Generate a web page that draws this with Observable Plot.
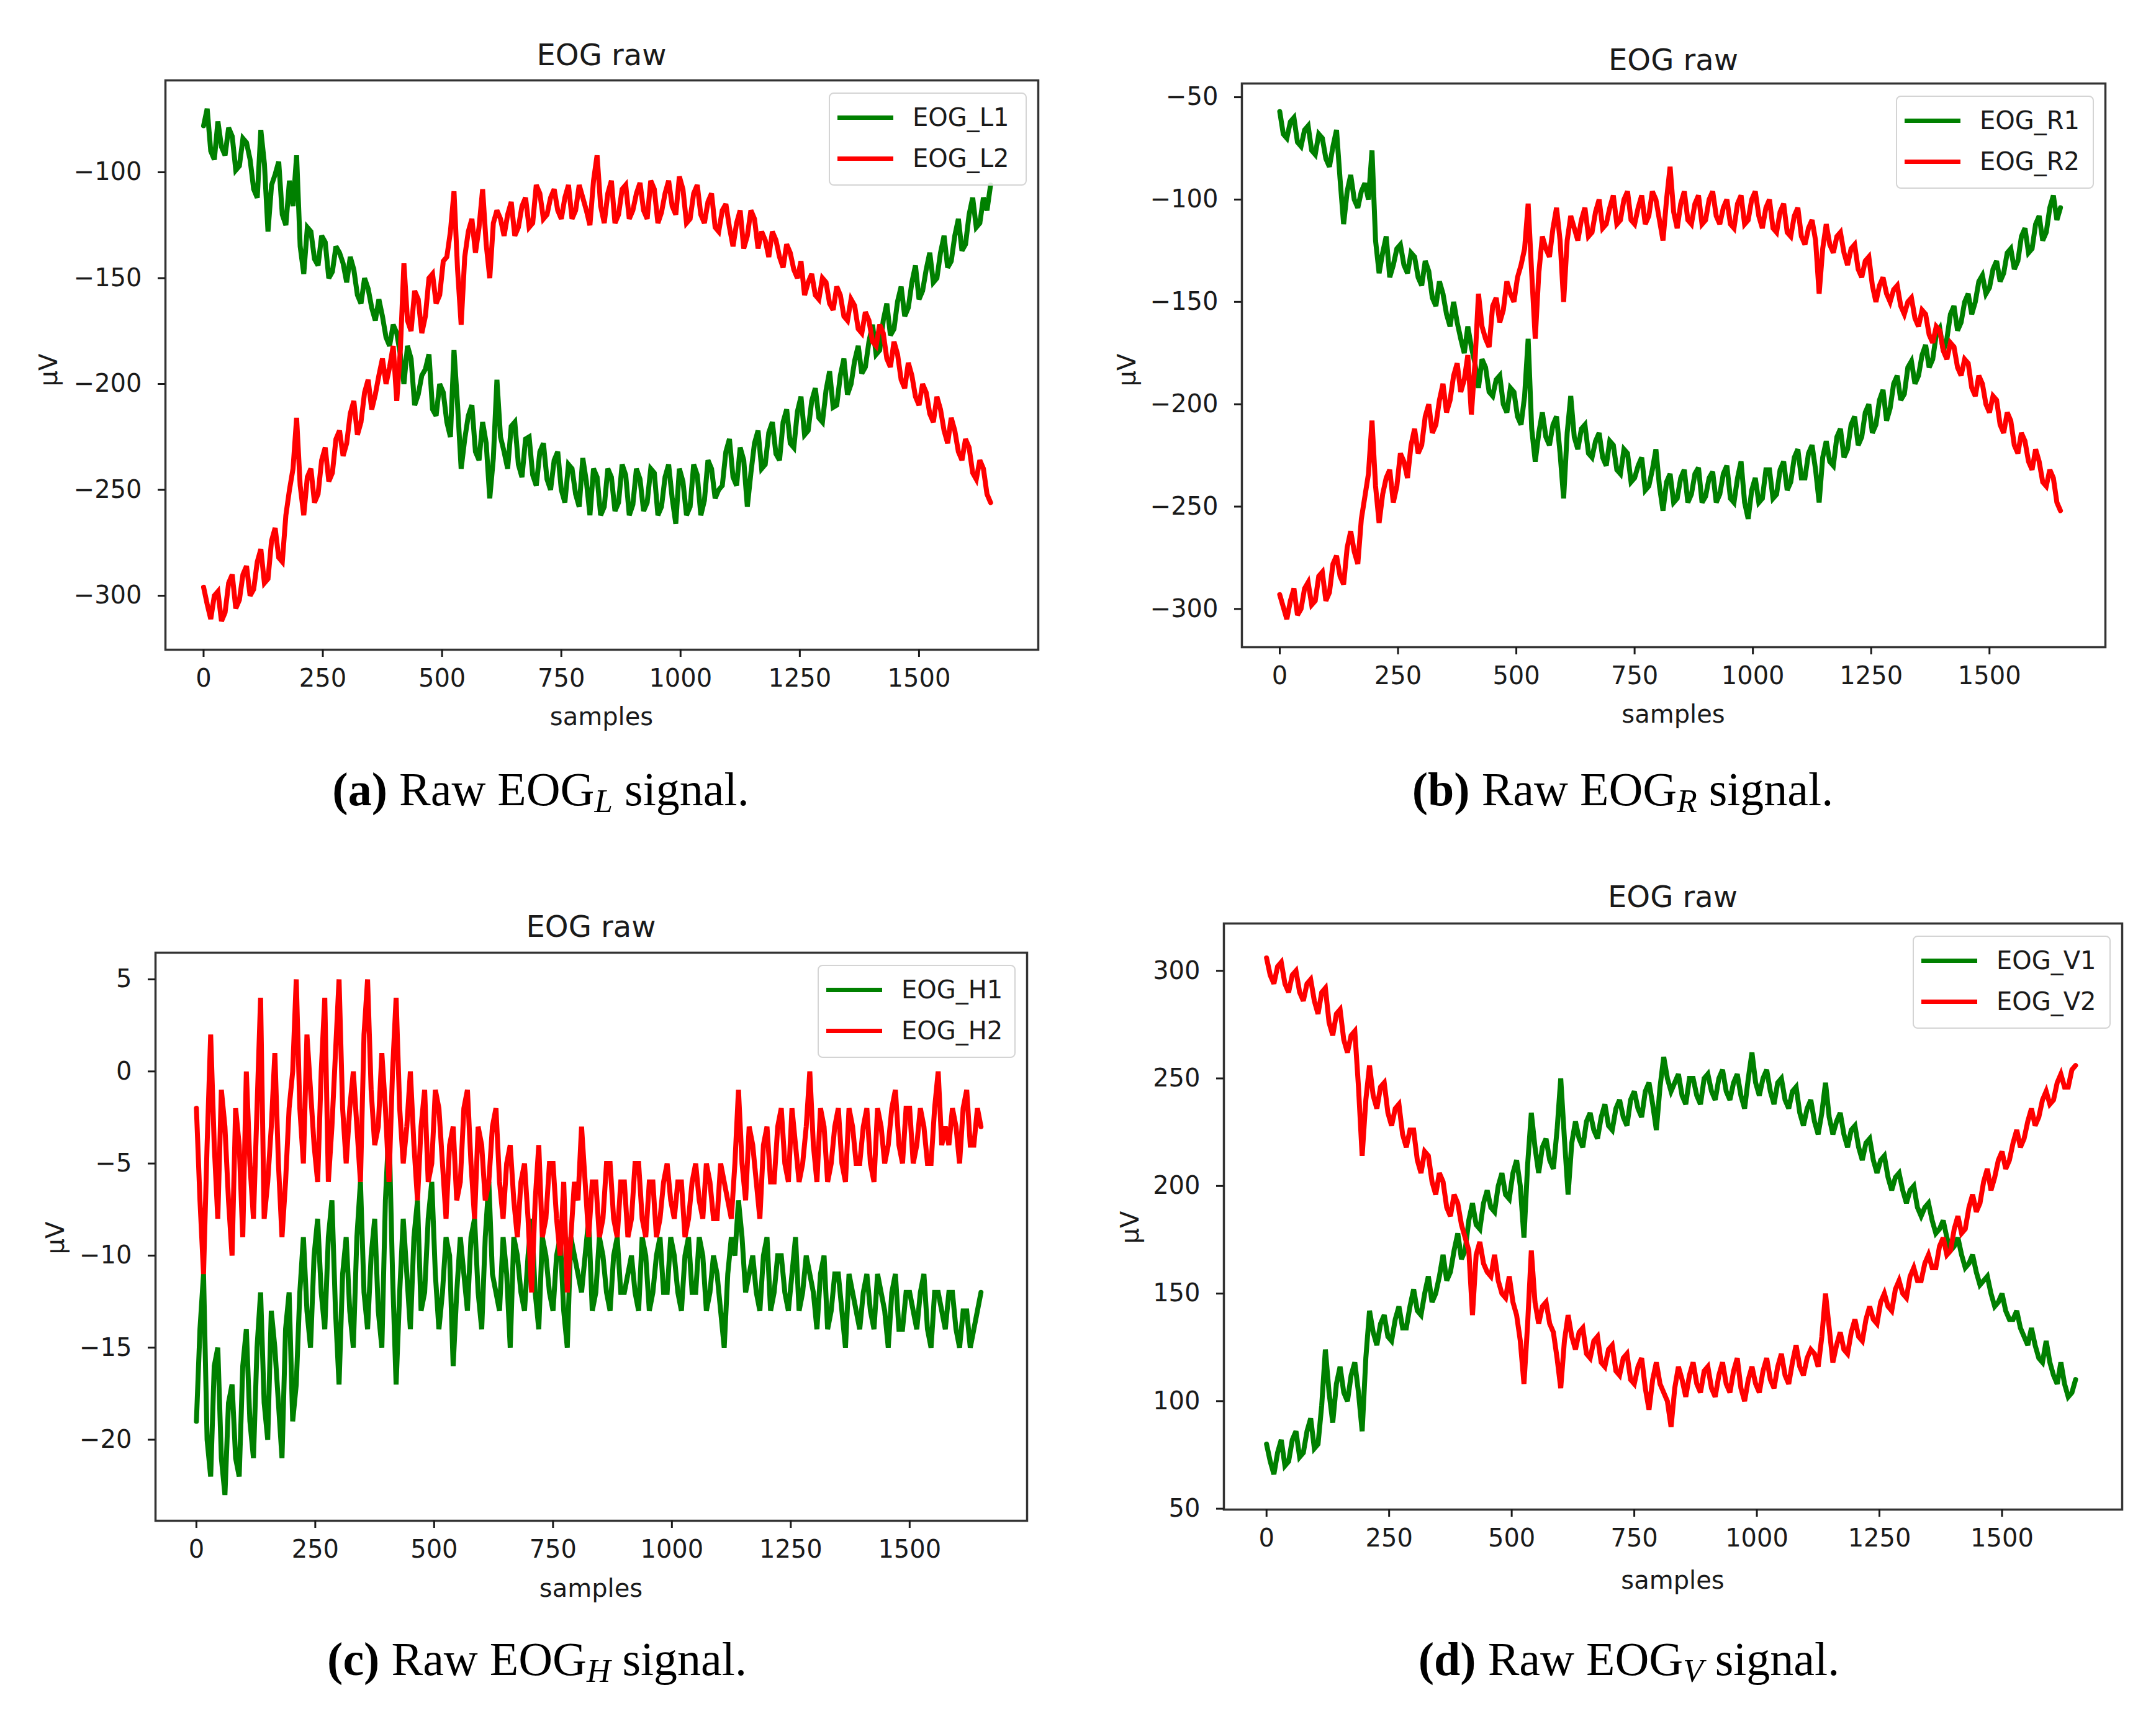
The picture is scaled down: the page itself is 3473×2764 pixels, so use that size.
<!DOCTYPE html>
<html>
<head>
<meta charset="utf-8">
<script src="https://cdn.jsdelivr.net/npm/d3@7"></script>
<script src="https://cdn.jsdelivr.net/npm/@observablehq/plot@0.6"></script>
<style>
  body { margin: 0; background: #fff; }
  #page { position: relative; width: 3473px; height: 2764px; background: #fff; overflow: hidden; }
  .chart { position: absolute; }
  .txt { position: absolute; font-family: "DejaVu Sans", sans-serif; color: #1a1a1a; white-space: nowrap; transform: translate(-50%, -50%); line-height: 1; }
  .title { font-size: 48px; }
  .axlabel { font-size: 40px; }
  .ylab { transform: translate(-50%, -50%) rotate(-90deg); }
  .legend { position: absolute; border: 2px solid #d4d4d4; border-radius: 8px; background: rgba(255,255,255,0.85); }
  .legend .sw { position: absolute; left: 12px; width: 90px; height: 7px; }
  .legend .lt { position: absolute; left: 133px; font-family: "DejaVu Sans", sans-serif; font-size: 40px; color: #1a1a1a; line-height: 1; transform: translateY(-50%); }
  .caption { position: absolute; font-family: "Liberation Serif", serif; font-size: 76px; color: #000; white-space: nowrap; transform: translate(-50%, -50%); line-height: 1; }
  .caption sub { font-size: 0.7em; vertical-align: -0.22em; font-style: italic; }
</style>
</head>
<body>
<div id="page"></div>
<script>
// readings every 15 samples (A) and half way between them (B)
const STEP = 15
const xTicks = [0, 250, 500, 750, 1000, 1250, 1500]

// (a) EOG_L
const eogL1 = [-78,-90,-76,-92,-83,-97,-86,-108,-80,-128,
  -101,-120,-104,-92,-148,-128,-144,-133,-147,-138,
  -152,-146,-162,-155,-170,-168,-182,-176,-200,-188,
  -205,-193,-212,-200,-218,-184,-240,-215,-232,-218,
  -254,-198,-232,-220,-238,-226,-243,-232,-245,-236,
  -250,-238,-252,-235,-262,-244,-258,-244,-256,-243,
  -257,-245,-256,-242,-258,-238,-266,-246,-258,-243,
  -255,-240,-250,-232,-244,-230,-258,-228,-240,-223,
  -233,-218,-228,-213,-224,-208,-216,-203,-211,-196,
  -205,-189,-195,-180,-186,-170,-177,-161,-168,-152,
  -160,-146,-152,-138,-145,-130,-137,-120,-126,-112,
  -106]
const eogL1b = [-70,-94,-88,-79,-99,-84,-94,-112,-96,-106,
  -95,-125,-116,-135,-126,-141,-130,-150,-135,-143,
  -140,-158,-150,-164,-160,-178,-172,-186,-182,-210,
  -196,-186,-215,-204,-225,-210,-226,-210,-236,-228,
  -235,-225,-240,-218,-244,-225,-248,-228,-250,-232,
  -256,-240,-258,-246,-240,-262,-240,-260,-238,-262,
  -240,-260,-240,-262,-244,-254,-240,-262,-238,-262,
  -236,-254,-248,-226,-248,-236,-242,-222,-238,-218,
  -236,-212,-230,-206,-222,-202,-218,-194,-210,-188,
  -200,-182,-192,-172,-184,-162,-174,-154,-164,-144,
  -156,-138,-150,-130,-142,-122,-134,-112,-124,-118]
const eogL2 = [-296,-311,-298,-308,-290,-302,-286,-297,-278,-292,
  -268,-284,-250,-216,-262,-240,-252,-230,-242,-222,
  -228,-208,-218,-198,-205,-188,-192,-208,-143,-175,
  -160,-168,-148,-158,-140,-109,-172,-128,-138,-108,
  -150,-118,-130,-114,-126,-112,-124,-110,-120,-108,
  -122,-106,-118,-112,-125,-92,-124,-104,-120,-106,
  -118,-105,-122,-108,-119,-104,-120,-108,-122,-106,
  -124,-110,-128,-115,-135,-118,-130,-122,-128,-140,
  -132,-145,-138,-150,-158,-148,-160,-152,-165,-158,
  -170,-163,-176,-170,-182,-176,-192,-186,-202,-196,
  -210,-204,-218,-212,-228,-222,-236,-230,-245,-240,
  -256]
const eogL2b = [-304,-300,-312,-294,-306,-290,-300,-284,-294,-274,
  -282,-262,-240,-248,-244,-256,-236,-246,-226,-234,
  -214,-224,-204,-212,-196,-200,-182,-184,-170,-156,
  -176,-150,-162,-142,-128,-146,-140,-122,-126,-134,
  -124,-122,-120,-130,-116,-126,-106,-122,-112,-118,
  -112,-122,-106,-118,-104,-116,-110,-124,-108,-122,
  -110,-118,-104,-124,-110,-116,-102,-124,-110,-120,
  -114,-126,-118,-126,-124,-136,-118,-136,-132,-128,
  -140,-134,-146,-142,-152,-158,-150,-162,-154,-168,
  -160,-174,-166,-180,-172,-188,-180,-198,-190,-206,
  -200,-214,-206,-222,-216,-232,-226,-242,-236,-252]

// (b) EOG_R
const eogR1 = [-57,-70,-60,-74,-64,-78,-70,-84,-66,-112,
  -88,-104,-92,-76,-136,-118,-132,-122,-136,-128,
  -142,-135,-152,-146,-162,-160,-175,-172,-192,-182,
  -196,-186,-204,-194,-210,-168,-228,-204,-220,-206,
  -246,-196,-222,-210,-226,-214,-230,-220,-234,-224,
  -236,-226,-240,-222,-252,-234,-246,-232,-244,-231,
  -245,-233,-244,-230,-248,-228,-256,-236,-246,-232,
  -244,-228,-238,-222,-236,-220,-248,-218,-230,-212,
  -222,-206,-216,-200,-210,-193,-202,-186,-195,-179,
  -186,-171,-178,-163,-168,-152,-160,-146,-150,-137,
  -143,-130,-136,-124,-130,-114,-124,-108,-116,-98,
  -104]
const eogR1b = [-68,-62,-72,-66,-76,-68,-80,-74,-90,-96,
  -100,-96,-100,-120,-126,-138,-124,-132,-126,-138,
  -130,-148,-140,-156,-150,-168,-162,-180,-178,-194,
  -188,-200,-192,-206,-196,-212,-214,-216,-210,-224,
  -214,-216,-212,-224,-218,-226,-218,-232,-222,-238,
  -230,-242,-232,-240,-238,-248,-236,-248,-234,-248,
  -236,-248,-234,-246,-236,-248,-242,-248,-232,-246,
  -232,-242,-226,-236,-224,-232,-226,-228,-216,-226,
  -210,-220,-204,-214,-198,-208,-190,-198,-182,-190,
  -176,-182,-166,-174,-156,-164,-150,-156,-140,-146,
  -134,-140,-126,-134,-118,-126,-112,-120,-104,-110]
const eogR2 = [-293,-305,-290,-300,-287,-296,-282,-292,-274,-288,
  -262,-278,-245,-208,-258,-236,-248,-224,-236,-212,
  -220,-200,-210,-190,-198,-180,-188,-205,-146,-168,
  -152,-160,-140,-150,-132,-102,-168,-118,-128,-104,
  -150,-108,-120,-104,-116,-100,-112,-98,-110,-96,
  -112,-98,-108,-100,-120,-84,-114,-96,-112,-98,
  -110,-96,-112,-100,-114,-98,-110,-96,-114,-100,
  -116,-102,-118,-104,-122,-110,-146,-112,-126,-116,
  -132,-122,-138,-128,-150,-138,-150,-142,-156,-148,
  -162,-156,-170,-164,-178,-172,-186,-180,-196,-190,
  -204,-198,-214,-208,-224,-218,-232,-228,-240,-236,
  -252]
const eogR2b = [-299,-296,-303,-290,-298,-284,-296,-278,-284,-270,
  -272,-256,-234,-240,-244,-232,-240,-228,-220,-224,
  -206,-214,-198,-204,-186,-194,-176,-180,-162,-172,
  -148,-154,-146,-138,-124,-136,-136,-124,-114,-120,
  -120,-114,-110,-118,-106,-114,-104,-112,-100,-110,
  -104,-112,-96,-110,-100,-106,-102,-110,-102,-112,
  -100,-108,-104,-112,-102,-112,-100,-108,-104,-114,
  -106,-116,-108,-118,-114,-120,-124,-122,-118,-126,
  -124,-134,-130,-142,-142,-146,-144,-152,-150,-158,
  -154,-166,-162,-174,-170,-182,-178,-192,-186,-200,
  -196,-210,-204,-220,-214,-228,-222,-238,-232,-248]

// (c) EOG_H
const eogH1 = [-19,-11,-22,-15,-23,-17,-22,-14,-21,-12,
  -20,-15,-21,-12,-17,-9,-15,-8,-14,-7,
  -17,-9,-15,-6,-14,-8,-15,-3,-17,-8,
  -14,-7,-12,-6,-14,-9,-16,-9,-13,-8,
  -14,-6,-12,-9,-15,-10,-13,-8,-14,-10,
  -13,-9,-15,-10,-12,-8,-12,-10,-13,-9,
  -12,-10,-13,-10,-12,-9,-12,-10,-13,-9,
  -12,-10,-12,-11,-15,-9,-7,-12,-10,-13,
  -9,-12,-10,-13,-9,-12,-11,-14,-10,-13,
  -11,-15,-12,-14,-11,-14,-12,-15,-11,-14,
  -12,-14,-11,-15,-12,-14,-12,-15,-13,-14,
  -12]
const eogH1b = [-14,-20,-16,-21,-18,-21,-16,-19,-15,-18,
  -13,-18,-14,-19,-12,-13,-10,-12,-9,-13,
  -11,-13,-9,-12,-10,-13,-7,-11,-12,-11,
  -9,-13,-8,-11,-12,-10,-12,-11,-9,-12,
  -9,-11,-13,-11,-9,-12,-10,-12,-9,-12,
  -10,-13,-9,-11,-10,-13,-9,-12,-10,-12,
  -11,-12,-9,-13,-10,-12,-9,-12,-10,-12,
  -9,-13,-10,-13,-11,-10,-9,-11,-12,-10,
  -13,-10,-12,-11,-13,-10,-12,-11,-14,-11,
  -13,-11,-13,-12,-13,-11,-13,-12,-14,-12,
  -13,-12,-14,-12,-13,-12,-14,-13,-15,-13]
const eogH2 = [-2,-11,2,-8,-3,-10,-4,0,-8,4,
  -6,1,-9,-2,5,-5,-1,-6,4,-3,
  5,-5,0,-6,5,-4,1,-6,4,-5,
  0,-7,-1,-5,-2,-8,-3,-6,-1,-8,
  -4,-6,-2,-8,-4,-9,-5,-12,-4,-8,
  -5,-10,-12,-6,-3,-9,-6,-8,-5,-9,
  -6,-8,-5,-9,-6,-8,-5,-8,-6,-8,
  -5,-8,-6,-8,-6,-8,-1,-7,-4,-8,
  -3,-6,-2,-6,-4,-5,0,-6,-3,-5,
  -2,-6,-3,-5,-2,-6,-3,-4,-1,-5,
  -2,-4,-3,-5,0,-3,-2,-5,-1,-4,
  -3]
const eogH2b = [-7,-4,-4,-1,-7,-2,-9,-5,-2,-8,
  -3,-5,-6,0,-2,2,-4,0,-6,1,
  -2,-2,-3,2,-1,-3,-2,0,-2,-3,
  -4,-3,-6,-1,-5,-4,-7,-2,-5,-3,
  -7,-3,-6,-5,-7,-6,-8,-7,-9,-5,
  -8,-6,-9,-7,-6,-6,-9,-5,-8,-6,
  -9,-5,-8,-6,-9,-6,-7,-6,-9,-6,
  -7,-5,-8,-5,-7,-5,-5,-3,-6,-4,
  -6,-3,-5,-2,-6,-3,-4,-2,-6,-3,
  -5,-2,-5,-3,-5,-2,-5,-2,-4,-2,
  -5,-2,-5,-2,-4,-4,-3,-2,-4,-2]

// (d) EOG_V
const eogV1 = [80,66,82,72,86,76,92,80,124,90,
  116,100,118,86,142,126,140,128,144,134,
  152,140,158,150,168,160,178,170,192,180,
  198,188,206,194,212,176,234,206,222,208,
  250,196,230,218,234,222,238,226,240,228,
  244,232,248,226,260,244,252,238,250,238,
  252,240,254,240,252,236,262,242,254,238,
  250,236,246,228,240,224,248,224,234,218,
  228,212,222,206,214,198,206,192,200,186,
  192,178,184,170,176,162,168,154,158,144,
  150,138,142,130,134,120,128,112,118,102,
  110]
const eogV1b = [72,76,70,82,74,86,78,98,104,108,
  104,112,104,120,132,136,130,138,134,144,
  142,150,146,158,156,170,166,184,182,192,
  190,200,196,206,200,210,218,218,212,226,
  222,220,222,230,226,232,228,236,232,240,
  236,244,238,246,250,248,242,250,242,250,
  244,250,244,248,242,250,248,250,244,248,
  240,244,234,236,230,234,232,230,224,226,
  218,220,212,212,204,204,198,198,190,190,
  184,180,176,172,168,164,160,156,150,146,
  142,138,134,126,126,118,118,108,108,104]
const eogV2 = [306,294,304,290,300,286,296,280,292,270,
  282,262,272,214,256,236,248,228,238,218,
  226,206,214,196,202,186,192,176,140,174,
  160,168,150,158,140,108,170,136,146,132,
  106,140,124,134,120,130,116,126,112,122,
  108,120,96,118,104,88,116,102,118,104,
  116,102,118,104,120,100,116,104,120,106,
  122,108,126,112,124,116,150,118,132,122,
  138,128,144,136,150,142,156,148,162,156,
  168,162,176,170,186,180,196,192,208,204,
  216,212,226,222,236,232,244,240,252,246,
  256]
const eogV2b = [298,302,294,298,290,294,286,290,276,280,
  268,270,246,240,242,246,234,236,224,226,
  212,216,202,206,190,196,182,170,168,164,
  158,156,148,146,128,136,146,144,136,120,
  128,130,132,122,128,118,124,114,120,110,
  116,106,110,108,100,106,110,112,108,114,
  106,112,108,114,106,110,108,114,110,116,
  112,118,116,120,122,130,134,126,124,132,
  130,138,138,146,144,152,150,158,156,164,
  162,172,168,180,178,190,188,202,198,212,
  208,220,218,230,228,240,238,248,246,254]

const GREEN = "#008000"
const RED = "#ff0000"

const panels = [
  {svg: [0, 0], frame: {l: 266, r: 1672, t: 129, b: 1046}, xDomain: [-80, 1750], yDomain: [-325.5, -56.6],
   yTicks: [-300, -250, -200, -150, -100], names: ["EOG_L1", "EOG_L2"],
   series: [[eogL1, eogL1b], [eogL2, eogL2b]],
   ylab: [78, 596], xlabY: 1154, titleY: 88, caption: [871, 1275], sub: "L", tag: "(a)"},
  {svg: [1737, 0], frame: {l: 2000, r: 3391, t: 134, b: 1042}, xDomain: [-80, 1745], yDomain: [-318.7, -43.3],
   yTicks: [-300, -250, -200, -150, -100, -50], names: ["EOG_R1", "EOG_R2"],
   series: [[eogR1, eogR1b], [eogR2, eogR2b]],
   ylab: [1815, 596], xlabY: 1150, titleY: 96, caption: [2614, 1275], sub: "R", tag: "(b)"},
  {svg: [0, 1400], frame: {l: 250, r: 1654, t: 1534, b: 2449}, xDomain: [-86, 1747], yDomain: [-24.4, 6.45],
   yTicks: [-20, -15, -10, -5, 0, 5], names: ["EOG_H1", "EOG_H2"],
   series: [[eogH1, eogH1b], [eogH2, eogH2b]],
   ylab: [89, 1994], xlabY: 2558, titleY: 1492, caption: [865, 2676], sub: "H", tag: "(c)"},
  {svg: [1737, 1400], frame: {l: 1971, r: 3418, t: 1487, b: 2431}, xDomain: [-87, 1745], yDomain: [49.6, 322],
   yTicks: [50, 100, 150, 200, 250, 300], names: ["EOG_V1", "EOG_V2"],
   series: [[eogV1, eogV1b], [eogV2, eogV2b]],
   ylab: [1820, 1977], xlabY: 2545, titleY: 1444, caption: [2624, 2676], sub: "V", tag: "(d)"}
]

// merge the two readings of one channel into a single table
function track([a, b]) {
  const rows = []
  a.forEach((v, i) => {
    rows.push({sample: i * STEP, value: v})
    if (i < b.length) rows.push({sample: i * STEP + STEP / 2, value: b[i]})
  })
  return rows
}

const fmt = d => d < 0 ? "\u2212" + Math.abs(d) : String(d)
const page = d3.select("#page")

function addText(cls, x, y, html) {
  page.append("div").attr("class", "txt " + cls)
    .style("left", x + "px").style("top", y + "px").html(html)
}

panels.forEach(p => {
  const W = 1736, H = 1200
  const [sx, sy] = p.svg
  const f = p.frame

  let chart = Plot.plot({
    width: W,
    height: H,
    marginLeft: f.l - sx,
    marginRight: sx + W - f.r,
    marginTop: f.t - sy,
    marginBottom: sy + H - f.b,
    style: {fontFamily: "DejaVu Sans", fontSize: "40px", color: "#1a1a1a", background: "transparent", overflow: "visible"},
    x: {domain: p.xDomain},
    y: {domain: p.yDomain},
    marks: [
      Plot.lineY(track(p.series[0]), {x: "sample", y: "value", stroke: GREEN, strokeWidth: 8, strokeLinejoin: "miter", strokeMiterlimit: 3}),
      Plot.lineY(track(p.series[1]), {x: "sample", y: "value", stroke: RED, strokeWidth: 8, strokeLinejoin: "miter", strokeMiterlimit: 3}),
      Plot.frame({stroke: "#333", strokeWidth: 3.5}),
      Plot.axisX({ticks: xTicks, tickFormat: fmt, tickSize: 12, tickPadding: 19, strokeWidth: 3, label: null}),
      Plot.axisY({ticks: p.yTicks, tickFormat: fmt, tickSize: 12, tickPadding: 26, strokeWidth: 3, label: null})
    ]
  })
  page.append("div").attr("class", "chart")
    .style("left", sx + "px").style("top", sy + "px")
    .append(() => chart)

  const cx = (f.l + f.r) / 2
  addText("title", cx, p.titleY, "EOG raw")
  addText("axlabel", cx, p.xlabY, "samples")
  addText("axlabel ylab", p.ylab[0], p.ylab[1], "\u00b5V")

  // legend box in the upper right corner of the axes
  const lg = page.append("div").attr("class", "legend")
    .style("left", (f.r - 22 - 315) + "px").style("top", (f.t + 20) + "px")
    .style("width", "315px").style("height", "146px")
  p.names.forEach((n, k) => {
    const yy = 38 + k * 66
    lg.append("div").attr("class", "sw").style("top", (yy - 3) + "px").style("background", k ? RED : GREEN)
    lg.append("div").attr("class", "lt").style("top", yy + "px").text(n)
  })

  page.append("div").attr("class", "caption")
    .style("left", p.caption[0] + "px").style("top", p.caption[1] + "px")
    .html(`<b>${p.tag}</b> Raw EOG<sub>${p.sub}</sub> signal.`)
})
</script>
</body>
</html>
